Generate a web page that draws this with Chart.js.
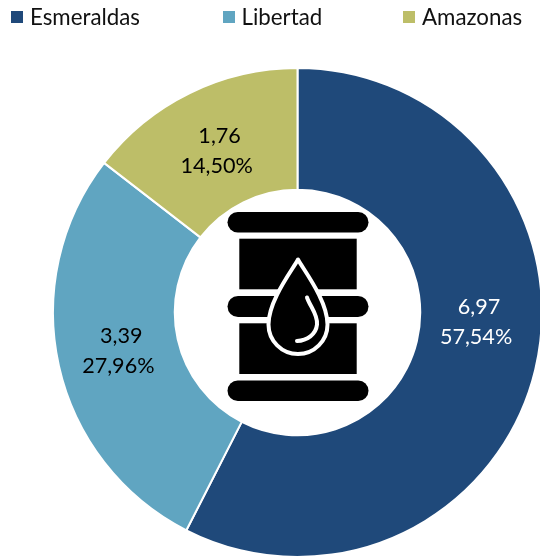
<!DOCTYPE html>
<html>
<head>
<meta charset="utf-8">
<script src="https://cdn.jsdelivr.net/npm/chart.js@4"></script>
<style>
html,body{margin:0;padding:0;width:540px;height:556px;overflow:hidden;background:#fff}
#wrap{position:absolute;left:0;top:0;width:596px;height:558px}
#legend{position:absolute;left:0;top:0;width:540px;height:34px;font:22.3px Lato,sans-serif;color:#111}
#legend span{position:absolute;white-space:nowrap;line-height:33px;top:0}
#legend i{position:absolute;top:11px;width:12px;height:12px}
</style>
</head>
<body>
<div id="wrap"><canvas id="c" width="596" height="558"></canvas></div>
<div id="legend"></div>
<script>
const categories = ['Esmeraldas','Libertad','Amazonas'];
const values = [6.97,3.39,1.76];
const percents = ['57,54%','27,96%','14,50%'];
const colors = ['#1F497A','#60A5C1','#BDBE68'];
const labelColors = ['#FFFFFF','#000000','#000000'];

const labelShift = [{x:0,y:-33},{x:0,y:-2},{x:0,y:3}];
const legendLeft = [11,222.5,403];

const sliceLabels = {
  id:'sliceLabels',
  afterDatasetsDraw(chart){
    const {ctx} = chart;
    chart.getDatasetMeta(0).data.forEach((arc,i)=>{
      const p = arc.tooltipPosition();
      const x = p.x+labelShift[i].x, y = p.y+labelShift[i].y;
      ctx.save();
      ctx.fillStyle = labelColors[i];
      ctx.font = '21.6px Lato, sans-serif';
      ctx.textAlign = 'center';
      ctx.textBaseline = 'middle';
      ctx.fillText(values[i].toFixed(2).replace('.',','),x+3,y-15);
      ctx.fillText(percents[i],x,y+15);
      ctx.restore();
    });
  }
};

const barrelIcon = {
  id:'barrelIcon',
  afterDatasetsDraw(chart){
    const {ctx} = chart;
    const a = chart.getDatasetMeta(0).data[0];
    ctx.save();
    ctx.translate(a.x+0.5,a.y);
    ctx.fillStyle = '#000';
    const bar=(y,h)=>{ctx.beginPath();ctx.roundRect(-70.5,y,141,h,h/2);ctx.fill();};
    bar(-100.5,20.5);
    bar(-16.5,21);
    bar(68,20.5);
    ctx.fillRect(-58.7,-73.8,117.4,50.6);
    ctx.fillRect(-58.7,10.8,117.4,50.7);
    ctx.beginPath();
    ctx.moveTo(0,-53);
    ctx.bezierCurveTo(-6,-42,-29.5,-12,-29.5,12);
    ctx.arc(0,12,29.5,Math.PI,0,true);
    ctx.bezierCurveTo(29.5,-12,6,-42,0,-53);
    ctx.closePath();
    ctx.fillStyle='#000';
    ctx.fill();
    ctx.strokeStyle='#fff';
    ctx.lineWidth=4;
    ctx.lineJoin='round';
    ctx.stroke();
    ctx.lineCap='round';
    ctx.lineWidth=4;
    ctx.beginPath();
    ctx.moveTo(9,-15);
    ctx.bezierCurveTo(12,-6,20,2,19,12);
    ctx.bezierCurveTo(18,22,9,28,-1,28.5);
    ctx.stroke();
    ctx.restore();
  }
};

const chart = new Chart(document.getElementById('c'),{
  type:'doughnut',
  data:{labels:categories,datasets:[{data:values,backgroundColor:colors,borderColor:'#fff',borderWidth:2}]},
  options:{
    responsive:false,
    animation:false,
    cutout:'50.2%',
    layout:{padding:{left:52,right:53,top:67,bottom:0}},
    plugins:{legend:{display:false},tooltip:{enabled:false}}
  },
  plugins:[sliceLabels,barrelIcon]
});

const legendEl = document.getElementById('legend');
categories.forEach((name,i)=>{
  const box=document.createElement('i');
  box.style.left=legendLeft[i]+'px';
  box.style.background=colors[i];
  const t=document.createElement('span');
  t.style.left=(legendLeft[i]+19)+'px';
  t.textContent=name;
  legendEl.append(box,t);
});
</script>
</body>
</html>
